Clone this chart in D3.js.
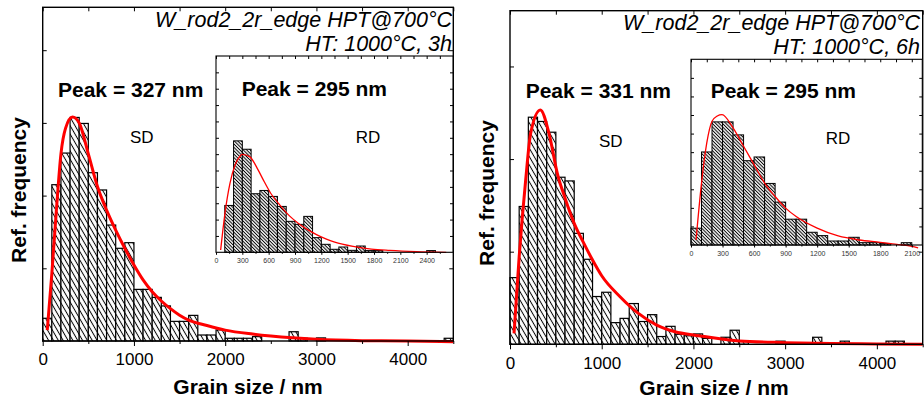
<!DOCTYPE html>
<html>
<head>
<meta charset="utf-8">
<script src="https://cdn.jsdelivr.net/npm/d3@7"></script>
<style>
  html, body { margin: 0; padding: 0; background: #fff; }
  svg { display: block; font-family: "Liberation Sans", Arial, Helvetica, sans-serif; }
</style>
</head>
<body>
<svg id="chart" width="924" height="402"></svg>
<script>
// ---- data -------------------------------------------------------------
// Histogram bin width (nm); bin i covers [i*binWidth, (i+1)*binWidth)
const binWidth = 100;

// Relative frequency (%) per bin, SD section, HT 1000 °C 3 h
const sd3hFreq = [1.25, 8.60, 10.34, 12.30, 11.97, 9.26, 8.31, 6.38, 5.10, 5.41,
                  2.84, 2.84, 2.40, 1.93, 1.08, 1.08, 1.41, 0.33, 0.33, 0.61,
                  0.15, 0.15, 0.15, 0.24, 0, 0, 0, 0.51, 0.15, 0,
                  0.17, 0, 0, 0, 0, 0, 0, 0, 0, 0,
                  0, 0, 0, 0, 0.15];
// RD section, 3 h
const rd3hFreq = [0, 7.16, 17.03, 15.75, 8.95, 9.45, 8.54, 7.01, 4.73, 4.27,
                  5.49, 2.24, 1.22, 0.46, 0.81, 0.30, 0.96, 0.26, 0.26, 0,
                  0, 0, 0, 0, 0.26];
// SD section, 6 h
const sd6hFreq = [3.60, 7.44, 12.26, 12.03, 11.45, 9.02, 8.82, 5.99, 4.59, 2.58,
                  2.81, 1.17, 1.40, 2.20, 1.23, 1.60, 0.42, 0.97, 0.54, 0.46,
                  0.56, 0.32, 0, 0.38, 0.76, 0.15, 0, 0, 0, 0.17,
                  0, 0, 0, 0.38, 0, 0, 0.17, 0, 0, 0,
                  0, 0.17, 0.17];
// RD section, 6 h
const rd6hFreq = [1.81, 10.02, 13.26, 13.26, 11.86, 9.08, 9.48, 6.63, 4.62, 2.78,
                  2.78, 1.37, 1.01, 0.43, 0.43, 0.83, 0.25, 0.25, 0.15, 0,
                  0.25];

// Log-normal fit curves: [grain size (nm), frequency (%)]
const sd3hFit = [[50, 0.6], [100, 3.7], [150, 7.2], [200, 10.3], [250, 11.7], [327, 12.32],
                 [400, 12.0], [500, 10.3], [600, 8.5], [700, 7.2], [800, 6.1], [900, 5.1],
                 [1000, 4.18], [1100, 3.36], [1200, 2.71], [1300, 2.2], [1400, 1.78],
                 [1500, 1.42], [1600, 1.15], [1800, 0.85], [2000, 0.6], [2300, 0.38],
                 [2500, 0.27], [3000, 0.09], [3500, 0.02], [4000, 0], [4500, -0.04]];
const rd3hFit = [[53, 0.35], [102, 5.95], [159, 10.52], [216, 13.31], [273, 14.68], [295, 14.98],
                 [386, 14.59], [481, 12.55], [550, 10.78], [625, 8.99], [728, 7.21], [834, 5.6],
                 [936, 4.45], [1039, 3.5], [1145, 2.7], [1251, 2.05], [1353, 1.55], [1562, 0.9],
                 [1770, 0.5], [1979, 0.3], [2282, 0.11], [2623, 0]];
const sd6hFit = [[44, 0.59], [100, 4.73], [171, 8.87], [225, 11.39], [331, 12.65], [425, 11.39],
                 [516, 9.23], [607, 7.79], [700, 6.53], [800, 5.5], [900, 4.55], [1000, 3.7],
                 [1200, 2.57], [1400, 1.67], [1600, 1.04], [1800, 0.68], [2000, 0.5],
                 [2100, 0.43], [2500, 0.18], [3000, 0.09], [3500, 0.04], [4000, 0.02], [4500, 0]];
const rd6hFit = [[48, 0.54], [100, 6.67], [150, 10.99], [200, 13.33], [250, 13.9], [295, 14.05],
                 [400, 12.62], [500, 10.63], [600, 8.65], [700, 6.67], [800, 5.22], [900, 3.97],
                 [1000, 3.06], [1200, 1.81], [1400, 0.97], [1600, 0.54], [1800, 0.29],
                 [1900, 0.15], [2000, 0.02], [2100, -0.15], [2160, -0.3]];

// Axis tick values
const mainXTicks = [0, 1000, 2000, 3000, 4000];
const mainXMinor = [500, 1500, 2500, 3500, 4500];
const inset3hXTicks = [0, 300, 600, 900, 1200, 1500, 1800, 2100, 2400];
const inset6hXTicks = [0, 300, 600, 900, 1200, 1500, 1800, 2100];

// Texts
const sampleTitle = "W_rod2_2r_edge HPT@700°C";
const heatTreatments = ["HT: 1000°C, 3h", "HT: 1000°C, 6h"];
const mainSection = "SD";
const insetSection = "RD";
const yLabel = "Ref. frequency";
const xLabel = "Grain size / nm";

// ---- drawing ----------------------------------------------------------
const svg = d3.select("#chart");
const defs = svg.append("defs");

function hatch(id, size, angle, width) {
  const p = defs.append("pattern").attr("id", id)
    .attr("patternUnits", "userSpaceOnUse")
    .attr("width", size).attr("height", size)
    .attr("patternTransform", `rotate(${angle})`);
  p.append("rect").attr("width", size).attr("height", size).attr("fill", "#fff");
  p.append("line").attr("x1", size / 2).attr("x2", size / 2)
    .attr("y1", -1).attr("y2", size + 1)
    .attr("stroke", "#000").attr("stroke-width", width);
}
hatch("hatchMain", 4.2, -30, 1);
hatch("hatchInset", 2.4, -45, 1);

const peakOf = fit => fit.reduce((a, b) => (b[1] > a[1] ? b : a))[0];

function styleAxis(sel, fontSize, color) {
  sel.select(".domain").remove();
  sel.selectAll(".tick line").attr("stroke", "#000").attr("stroke-width", 1);
  sel.selectAll(".tick text").attr("font-size", fontSize).attr("fill", color)
    .attr("font-family", null);
  sel.attr("font-family", null).attr("font-size", null);
}

// One histogram plot: bars, fitted curve, frame, ticks
function drawPlot(o) {
  const g = svg.append("g");
  const x = d3.scaleLinear().domain([0, o.xMax]).range([o.x0, o.x1]);
  const y = d3.scaleLinear().domain([0, o.yMax]).range([o.y1, o.y0]);

  if (o.background) {
    g.append("rect").attr("x", o.x0).attr("y", o.y0)
      .attr("width", o.x1 - o.x0).attr("height", o.y1 - o.y0).attr("fill", "#fff");
  }

  const bins = o.freq.map((v, i) => ({ a: i * binWidth, b: (i + 1) * binWidth, v }))
    .filter(d => d.v > 0);
  g.append("g").selectAll("rect").data(bins).join("rect")
    .attr("x", d => x(d.a)).attr("width", d => x(d.b) - x(d.a))
    .attr("y", d => y(d.v)).attr("height", d => y(0) - y(d.v))
    .attr("fill", `url(#${o.pattern})`)
    .attr("stroke", "#000").attr("stroke-width", o.barStroke);

  const line = d3.line().x(d => x(d[0])).y(d => y(d[1])).curve(d3.curveMonotoneX);
  g.append("path").datum(o.fit).attr("d", line)
    .attr("fill", "none").attr("stroke", "#ff0000")
    .attr("stroke-width", o.curveWidth).attr("stroke-linejoin", "round");

  // frame
  g.append("rect").attr("x", o.x0).attr("y", o.y0)
    .attr("width", o.x1 - o.x0).attr("height", o.y1 - o.y0)
    .attr("fill", "none").attr("stroke", "#000").attr("stroke-width", o.frameWidth);

  const yTicks = d3.range(o.yStep, o.yMax, o.yStep);

  // bottom: labelled major ticks + minor ticks (outward)
  const bx = g.append("g").attr("transform", `translate(0,${o.y1})`)
    .call(d3.axisBottom(x).tickValues(o.xTicks).tickSize(o.majorLen)
      .tickPadding(o.labelPad).tickFormat(d3.format("d")));
  styleAxis(bx, o.labelSize, o.labelColor);
  const bm = g.append("g").attr("transform", `translate(0,${o.y1})`)
    .call(d3.axisBottom(x).tickValues(o.xMinor).tickSize(o.minorLen).tickFormat(""));
  styleAxis(bm, 1, "#000");

  // top: inward ticks
  const tx = g.append("g").attr("transform", `translate(0,${o.y0})`)
    .call(d3.axisTop(x).tickValues(o.xTicks.concat(o.xMinor)).tickSize(-o.innerLen).tickFormat(""));
  styleAxis(tx, 1, "#000");

  // left / right: inward ticks, unlabelled
  const ly = g.append("g").attr("transform", `translate(${o.x0},0)`)
    .call(d3.axisLeft(y).tickValues(yTicks).tickSize(-o.innerLen).tickFormat(""));
  styleAxis(ly, 1, "#000");
  const ry = g.append("g").attr("transform", `translate(${o.x1},0)`)
    .call(d3.axisRight(y).tickValues(yTicks).tickSize(-o.innerLen).tickFormat(""));
  styleAxis(ry, 1, "#000");
}

function text(str, x, y, opts) {
  const t = svg.append("text").attr("x", x).attr("y", y).text(str)
    .attr("font-size", opts.size).attr("fill", "#000");
  if (opts.weight) t.attr("font-weight", opts.weight);
  if (opts.style) t.attr("font-style", opts.style);
  if (opts.anchor) t.attr("text-anchor", opts.anchor);
  if (opts.rotate) t.attr("transform", `rotate(-90,${x},${y})`);
  return t;
}

const panels = [
  {
    main: { freq: sd3hFreq, fit: sd3hFit, x0: 42.7, x1: 453.3, y0: 7.3, y1: 341, xMax: 4500, yMax: 18.36, yStep: 4 },
    inset: { freq: rd3hFreq, fit: rd3hFit, x0: 216, x1: 453, y0: 56, y1: 252.3, xMax: 2700, yMax: 30, yStep: 2.5, ticks: inset3hXTicks },
    ht: heatTreatments[0],
    peakMain: [58, 96.5], peakInset: [241.7, 95.5], sd: [130, 143.3], rd: [355.7, 143.3],
    titleX: 452, titleY: [26.7, 50.7], yLab: [26, 190], xLab: [248, 393.5]
  },
  {
    main: { freq: sd6hFreq, fit: sd6hFit, x0: 510, x1: 922.7, y0: 10.7, y1: 344.3, xMax: 4500, yMax: 18.01, yStep: 5 },
    inset: { freq: rd6hFreq, fit: rd6hFit, x0: 691, x1: 922.3, y0: 59.3, y1: 245, xMax: 2200, yMax: 20, yStep: 2, ticks: inset6hXTicks },
    ht: heatTreatments[1],
    peakMain: [525.7, 98.3], peakInset: [710.7, 98.3], sd: [599, 146.7], rd: [825.7, 144.3],
    titleX: 920, titleY: [30, 54], yLab: [494, 193], xLab: [714, 395]
  }
];

panels.forEach(p => {
  drawPlot(Object.assign({}, p.main, {
    pattern: "hatchMain", barStroke: 1.2, curveWidth: 3, frameWidth: 1.4,
    xTicks: mainXTicks, xMinor: mainXMinor, majorLen: 5, minorLen: 3, innerLen: 4,
    labelPad: 7.4, labelSize: 17, labelColor: "#000"
  }));
  const insetMinor = p.inset.ticks.map(v => v + 150).filter(v => v < p.inset.xMax);
  drawPlot(Object.assign({}, p.inset, {
    background: true, pattern: "hatchInset", barStroke: 1, curveWidth: 1.3, frameWidth: 1.1,
    xTicks: p.inset.ticks, xMinor: insetMinor, majorLen: 2.5, minorLen: 1.5, innerLen: 3,
    labelPad: 3.5, labelSize: 7, labelColor: "#333"
  }));

  text(`Peak = ${peakOf(p.main.fit)} nm`, p.peakMain[0], p.peakMain[1], { size: 21, weight: "bold" });
  text(`Peak = ${peakOf(p.inset.fit)} nm`, p.peakInset[0], p.peakInset[1], { size: 21, weight: "bold" });
  text(mainSection, p.sd[0], p.sd[1], { size: 17 });
  text(insetSection, p.rd[0], p.rd[1], { size: 17 });
  text(sampleTitle, p.titleX, p.titleY[0], { size: 21.5, style: "italic", anchor: "end" });
  text(p.ht, p.titleX, p.titleY[1], { size: 21.5, style: "italic", anchor: "end" });
  text(yLabel, p.yLab[0], p.yLab[1], { size: 21, weight: "bold", anchor: "middle", rotate: true });
  text(xLabel, p.xLab[0], p.xLab[1], { size: 21, weight: "bold", anchor: "middle" });
});
</script>
</body>
</html>
